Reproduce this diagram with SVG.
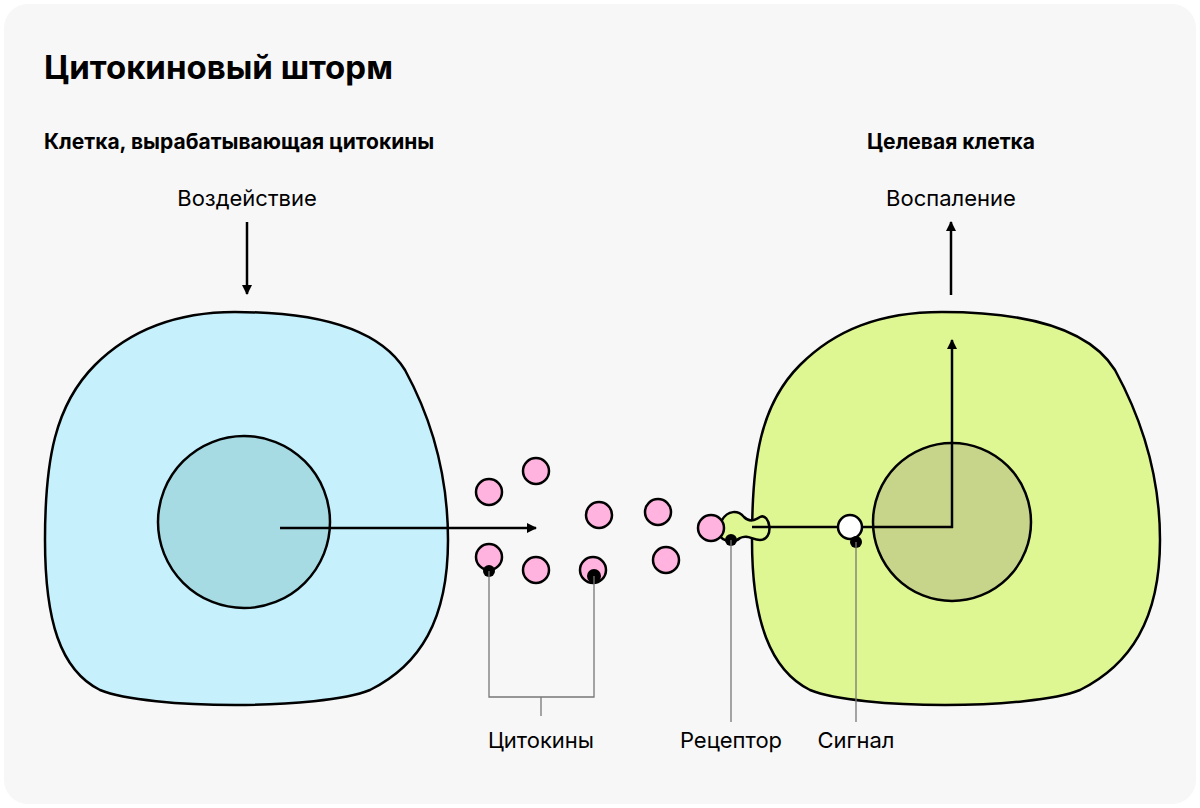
<svg xmlns="http://www.w3.org/2000/svg" width="1200" height="808" viewBox="0 0 1200 808">
<defs>
<marker id="ah" viewBox="0 0 10 10" refX="9" refY="5" markerWidth="10" markerHeight="10" markerUnits="userSpaceOnUse" orient="auto"><path d="M0 0 L10 5 L0 10 Z" fill="#000"/></marker>
<style>
.t{font-family:"Inter","Liberation Sans",sans-serif;fill:#000}
.h{font-weight:700}
.cell{stroke:#000;stroke-width:2.5}
.ln{stroke:#000;stroke-width:2.5;fill:none}
.g{stroke:#777;stroke-width:1.3;fill:none}
.c{fill:#ffb3de;stroke:#000;stroke-width:2.5}
</style>
</defs>
<rect x="0" y="0" width="1200" height="808" fill="#fff"/>
<rect x="4" y="4" width="1192" height="800" rx="24" fill="#f7f7f7"/>
<text class="t h" x="44" y="79" font-size="33">Цитокиновый шторм</text>
<text class="t h" x="44" y="149" font-size="21">Клетка, вырабатывающая цитокины</text>
<text class="t h" x="951" y="149" font-size="21" text-anchor="middle">Целевая клетка</text>
<text class="t" x="247" y="206" font-size="22" text-anchor="middle">Воздействие</text>
<text class="t" x="951" y="206" font-size="22" text-anchor="middle">Воспаление</text>
<g id="cell1">
<path class="cell" fill="#c6f0fc" d="M235 312 C320 312 380 330 405 370 C435 425 448 480 448 540 C448 620 420 665 370 690 C320 710 150 710 100 690 C60 670 45 620 45 540 C45 460 55 405 95 365 C130 330 175 312 235 312 Z"/>
<circle cx="244" cy="522" r="86" fill="#a6dbe3" class="cell"/>
</g>
<g id="cell2">
<path class="cell" fill="#def793" d="M942 312 C1030 312 1090 330 1115 370 C1145 425 1160 480 1160 540 C1160 620 1130 665 1080 690 C1030 710 860 710 810 690 C770 670 752 620 752 540 C752 460 760 405 800 365 C835 330 880 312 942 312 Z"/>
<circle cx="952" cy="522" r="79" fill="#c6d58a" class="cell"/>
</g>
<g id="cytokines">
<circle class="c" cx="489" cy="492" r="13"/>
<circle class="c" cx="536" cy="471" r="13"/>
<circle class="c" cx="599" cy="515" r="13"/>
<circle class="c" cx="658" cy="512" r="13"/>
<circle class="c" cx="489" cy="557" r="13"/>
<circle class="c" cx="536" cy="570" r="13"/>
<circle class="c" cx="593" cy="570" r="13"/>
<circle class="c" cx="666" cy="560" r="13"/>
<circle cx="489" cy="571" r="6" fill="#000"/>
<circle cx="594" cy="576" r="7" fill="#000"/>
</g>
<g id="receptor">
<path class="cell" fill="#def793" d="M722 520 C728 510 738 510 744 517 C750 523 755 520 760 517 C770 512 775 540 760 540 C752 540 748 534 740 538 C732 545 718 540 718 530 Z"/>
<circle class="c" cx="711" cy="528" r="13"/>
<circle cx="731" cy="540" r="6" fill="#000"/>
</g>
<g id="signal">
<circle cx="850" cy="527" r="12" fill="#fff" stroke="#000" stroke-width="2.5"/>
<circle cx="856" cy="542" r="6" fill="#000"/>
</g>
<g id="connectors">
<line class="ln" x1="247" y1="222" x2="247" y2="294" marker-end="url(#ah)"/>
<line class="ln" x1="951" y1="295" x2="951" y2="222" marker-end="url(#ah)"/>
<line class="ln" x1="280" y1="528" x2="536" y2="528" marker-end="url(#ah)"/>
<line class="ln" x1="752" y1="527" x2="838" y2="527"/>
<line class="ln" x1="862" y1="527" x2="953" y2="527"/>
<line class="ln" x1="952" y1="528" x2="952" y2="340" marker-end="url(#ah)"/>
<polyline class="g" points="489,571 489,697 594,697 594,576"/>
<line class="g" x1="541" y1="697" x2="541" y2="716"/>
<line class="g" x1="731" y1="540" x2="731" y2="722"/>
<line class="g" x1="856" y1="542" x2="856" y2="722"/>
</g>
<text class="t" x="541" y="748" font-size="22" text-anchor="middle">Цитокины</text>
<text class="t" x="731" y="748" font-size="22" text-anchor="middle">Рецептор</text>
<text class="t" x="856" y="748" font-size="22" text-anchor="middle">Сигнал</text>
</svg>
